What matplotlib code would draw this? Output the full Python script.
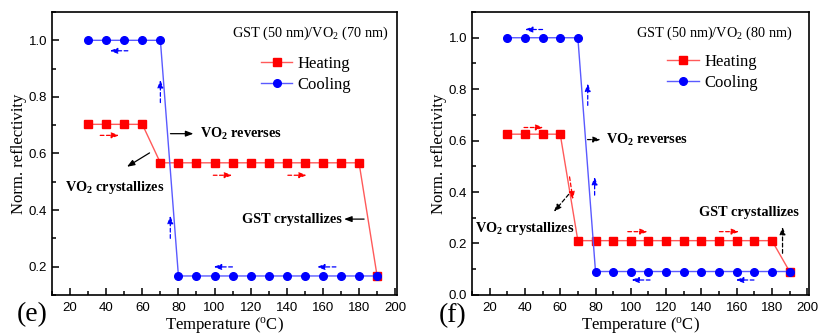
import numpy as np
import matplotlib
matplotlib.use("Agg")
import matplotlib.pyplot as plt
from matplotlib.ticker import MultipleLocator

plt.rcParams['font.family'] = ['Liberation Serif', 'DejaVu Serif']
plt.rcParams['mathtext.fontset'] = 'custom'
plt.rcParams['mathtext.rm'] = 'Liberation Serif'
plt.rcParams['mathtext.it'] = 'Liberation Serif:italic'
plt.rcParams['mathtext.bf'] = 'Liberation Serif:bold'
plt.rcParams['mathtext.default'] = 'rm'

# temperatures (degC)
temp = [30, 40, 50, 60, 70, 80, 90, 100, 110, 120, 130, 140, 150, 160, 170, 180, 190]

# (e) GST 50 nm / VO2 70 nm
heat_e = [0.703, 0.703, 0.703, 0.703, 0.567, 0.567, 0.567, 0.567, 0.567, 0.567,
          0.567, 0.567, 0.567, 0.567, 0.567, 0.567, 0.167]
cool_e = [1.0, 1.0, 1.0, 1.0, 1.0, 0.167, 0.167, 0.167, 0.167, 0.167,
          0.167, 0.167, 0.167, 0.167, 0.167, 0.167, 0.167]

# (f) GST 50 nm / VO2 80 nm
heat_f = [0.625, 0.625, 0.625, 0.625, 0.211, 0.211, 0.211, 0.211, 0.211, 0.211,
          0.211, 0.211, 0.211, 0.211, 0.211, 0.211, 0.091]
cool_f = [1.0, 1.0, 1.0, 1.0, 1.0, 0.091, 0.091, 0.091, 0.091, 0.091,
          0.091, 0.091, 0.091, 0.091, 0.091, 0.091, 0.091]

titles = ['GST (50 nm)/VO$_2$ (70 nm)', 'GST (50 nm)/VO$_2$ (80 nm)']
panel_tags = ['(e)', '(f)']

RED = '#ff0000'
BLUE = '#0000ff'


def arrow(ax, x0, y0, x1, y1, color, dashed=True):
    ax.annotate('', xy=(x1, y1), xytext=(x0, y0),
                arrowprops=dict(arrowstyle='-|>,head_length=0.45,head_width=0.17',
                                color=color, lw=0.9,
                                linestyle=(0, (3, 2)) if dashed else '-',
                                shrinkA=0, shrinkB=0))


def style_axes(ax, ymin, yticks):
    ax.set_xlim(10, 201)
    ax.set_ylim(ymin, 1.1)
    ax.set_xticks([20, 40, 60, 80, 100, 120, 140, 160, 180, 200])
    ax.xaxis.set_minor_locator(MultipleLocator(10))
    ax.set_yticks(yticks)
    ax.yaxis.set_minor_locator(MultipleLocator(0.1))
    ax.tick_params(which='both', direction='in', top=False, right=False,
                   labelsize=9.5, labelfontfamily='Liberation Sans', width=1.1)
    ax.tick_params(which='major', length=5)
    ax.tick_params(which='minor', length=3)
    ax.tick_params(axis='x', pad=5)
    for s in ax.spines.values():
        s.set_linewidth(1.2)
    ax.set_xlabel('Temperature ($^\\mathrm{o}$C)', fontsize=12, labelpad=1)
    ax.set_ylabel('Norm. reflectivity', fontsize=12, labelpad=1)


fig = plt.figure(figsize=(8.19, 3.34), dpi=100)
ax1 = fig.add_axes([0.0635, 0.117, 0.4212, 0.847])
ax2 = fig.add_axes([0.5763, 0.117, 0.4115, 0.847])

for ax, heat, cool, title in [(ax1, heat_e, cool_e, titles[0]), (ax2, heat_f, cool_f, titles[1])]:
    ax.plot(temp, heat, color='#ff5a5a', lw=1, marker='s', ms=5.5,
            mfc=RED, mec=RED, label='Heating')
    ax.plot(temp, cool, color='#5a5aff', lw=1, marker='o', ms=5.5,
            mfc=BLUE, mec=BLUE, label='Cooling')

style_axes(ax1, 0.1, [0.2, 0.4, 0.6, 0.8, 1.0])
style_axes(ax2, 0.0, [0.0, 0.2, 0.4, 0.6, 0.8, 1.0])

ax1.text(0.974, 0.926, titles[0], transform=ax1.transAxes, ha='right', va='center', fontsize=10.3)
ax2.text(0.952, 0.926, titles[1], transform=ax2.transAxes, ha='right', va='center', fontsize=10.3)
ax1.legend(loc='upper left', bbox_to_anchor=(0.605, 0.846), frameon=False, fontsize=12,
           borderpad=0, borderaxespad=0, handlelength=1.9, handletextpad=0.3, labelspacing=0.32)
ax2.legend(loc='upper left', bbox_to_anchor=(0.58, 0.852), frameon=False, fontsize=12,
           borderpad=0, borderaxespad=0, handlelength=1.9, handletextpad=0.3, labelspacing=0.32)

# panel (e) annotations
arrow(ax1, 52, 0.963, 42, 0.963, BLUE)
arrow(ax1, 70, 0.78, 70, 0.86, BLUE)
arrow(ax1, 75.5, 0.30, 75.5, 0.38, BLUE)
arrow(ax1, 36.7, 0.664, 47.2, 0.664, RED)
arrow(ax1, 99.3, 0.523, 109.8, 0.523, RED)
arrow(ax1, 140.6, 0.523, 151.1, 0.523, RED)
arrow(ax1, 109.9, 0.199, 99.5, 0.199, BLUE)
arrow(ax1, 167.2, 0.199, 156.7, 0.199, BLUE)
arrow(ax1, 75.6, 0.67, 88.3, 0.67, 'black', dashed=False)
arrow(ax1, 64, 0.602, 51.5, 0.553, 'black', dashed=False)
arrow(ax1, 182.8, 0.368, 171.7, 0.368, 'black', dashed=False)
ax1.text(91.9, 0.67, 'VO$_\\mathbf{2}$ reverses', fontsize=10.3, fontweight='bold', va='center')
ax1.text(44.5, 0.48, 'VO$_\\mathbf{2}$ crystallizes', fontsize=10.3, fontweight='bold', va='center', ha='center')
ax1.text(170.5, 0.368, 'GST crystallizes', fontsize=10.3, fontweight='bold', va='center', ha='right')

# panel (f) annotations
arrow(ax2, 50, 1.032, 40, 1.032, BLUE)
arrow(ax2, 39.5, 0.651, 50.5, 0.651, RED)
arrow(ax2, 65.3, 0.459, 67.2, 0.371, RED)
arrow(ax2, 75.6, 0.737, 75.6, 0.822, BLUE)
arrow(ax2, 79.5, 0.388, 79.5, 0.459, BLUE)
arrow(ax2, 98.3, 0.246, 109.6, 0.246, RED)
arrow(ax2, 150.2, 0.246, 161.4, 0.246, RED)
arrow(ax2, 110.9, 0.058, 100.3, 0.058, BLUE)
arrow(ax2, 169.8, 0.058, 159.5, 0.058, BLUE)
arrow(ax2, 75.5, 0.604, 83, 0.604, 'black')
arrow(ax2, 64.8, 0.391, 56.4, 0.323, 'black')
arrow(ax2, 186, 0.162, 186, 0.265, 'black')
ax2.text(86.1, 0.604, 'VO$_\\mathbf{2}$ reverses', fontsize=10.3, fontweight='bold', va='center')
ax2.text(40, 0.259, 'VO$_\\mathbf{2}$ crystallizes', fontsize=10.3, fontweight='bold', va='center', ha='center')
ax2.text(167.2, 0.321, 'GST crystallizes', fontsize=10.3, fontweight='bold', va='center', ha='center')

fig.text(0.039, 0.058, panel_tags[0], fontsize=20, ha='center', va='center')
fig.text(0.553, 0.055, panel_tags[1], fontsize=20, ha='center', va='center')

fig.savefig('out.png', dpi=100)
